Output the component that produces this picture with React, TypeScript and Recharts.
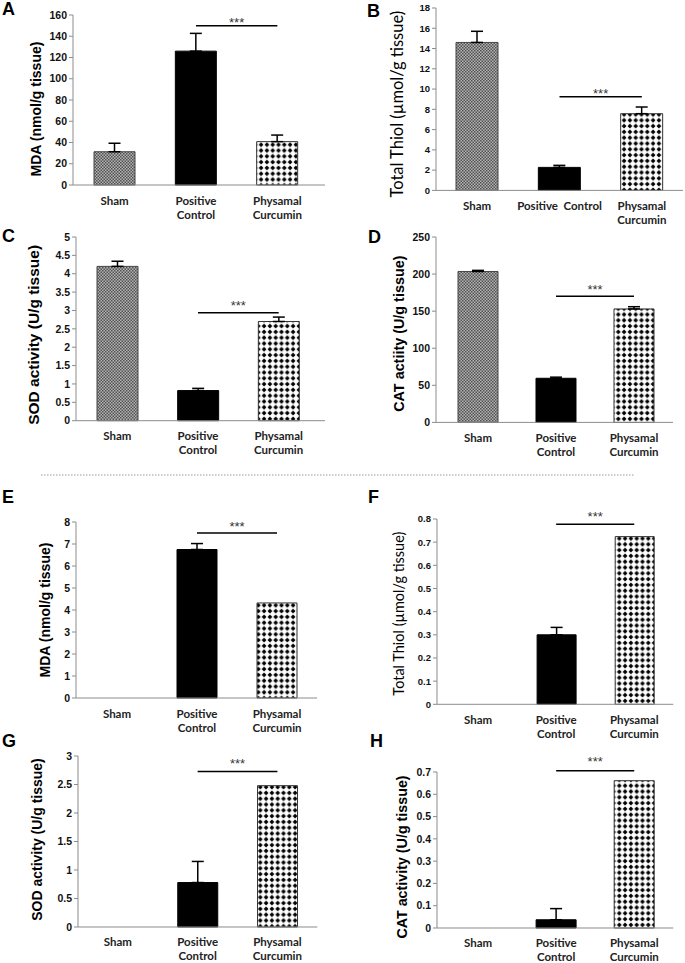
import React from 'react';
import { BarChart, Bar, XAxis, YAxis, ErrorBar, Cell, ReferenceLine } from 'recharts';

const groups = ['Sham', 'Positive Control', 'Physamal Curcumin'];
const groupLines = [['Sham'], ['Positive', 'Control'], ['Physamal', 'Curcumin']];
const groupLinesB = [['Sham'], ['Positive\u00a0\u00a0Control'], ['Physamal', 'Curcumin']];

// upper set (A-D)
const mdaA = [31.3, 126, 40.8];
const mdaAErr = [8, 16.7, 6.2];
const thiolB = [14.6, 2.27, 7.57];
const thiolBErr = [1.1, 0.2, 0.66];
const sodC = [4.2, 0.82, 2.7];
const sodCErr = [0.14, 0.06, 0.12];
const catD = [203.5, 59.5, 153];
const catDErr = [1.5, 1.5, 3];

// lower set (E-H), null = no error bar drawn
const mdaE = [0, 6.75, 4.32];
const mdaEErr = [null, 0.27, null];
const thiolF = [0, 0.3, 0.724];
const thiolFErr = [null, 0.032, null];
const sodG = [0, 0.78, 2.48];
const sodGErr = [null, 0.37, null];
const catH = [0, 0.037, 0.661];
const catHErr = [null, 0.05, null];

const ticksA = [0, 20, 40, 60, 80, 100, 120, 140, 160];
const ticksB = [0, 2, 4, 6, 8, 10, 12, 14, 16, 18];
const ticksC = [0, 0.5, 1, 1.5, 2, 2.5, 3, 3.5, 4, 4.5, 5];
const ticksD = [0, 50, 100, 150, 200, 250];
const ticksE = [0, 1, 2, 3, 4, 5, 6, 7, 8];
const ticksF = [0, 0.1, 0.2, 0.3, 0.4, 0.5, 0.6, 0.7, 0.8];
const ticksG = [0, 0.5, 1, 1.5, 2, 2.5, 3];
const ticksH = [0, 0.1, 0.2, 0.3, 0.4, 0.5, 0.6, 0.7];

// height of the *** bracket (Positive Control vs Physamal Curcumin)
const sigLevels = [150, 9.25, 2.94, 170, 7.5, 0.777, 2.73, 0.706];

const M_TOP = 24;
const Y_W = 70;
const X_H = 45;

const YTitle = (props: any) => {
  const vb = props.viewBox || props;
  const x = vb.x + vb.width - props.dist;
  const y = vb.y + vb.height / 2 + props.dy;
  return (
    <text
      x={x}
      y={y}
      transform={`rotate(-90, ${x}, ${y})`}
      textAnchor="middle"
      dominantBaseline="central"
      fontFamily={props.font}
      fontWeight={props.weight}
      fontSize={props.size}
      fill="#000"
    >
      {props.text}
    </text>
  );
};

const GroupTick = ({ x, y, payload, lines }: any) => {
  const rows = lines[payload.index] || [payload.value];
  return (
    <g transform={`translate(${x},${y})`}>
      {rows.map((r: string, i: number) => (
        <text key={i} x={0} y={19.5 + i * 14} textAnchor="middle" fontFamily="Lato" fontWeight={700} fontSize={11.5} fill="#222">
          {r}
        </text>
      ))}
    </g>
  );
};

const Panel = (p: any) => {
  const data = groups.map((g, i) => ({
    name: g,
    value: p.values[i],
    err: p.errors[i] == null ? null : [0, p.errors[i]],
  }));
  const width = p.right - p.axisX + Y_W + 2;
  const height = p.zero - p.top + M_TOP + X_H;
  const fills = [`url(#sham-${p.id})`, '#000', `url(#phc-${p.id})`];
  const strokes = ['#444', '#000', '#333'];
  return (
    <div style={{ position: 'absolute', left: p.axisX - Y_W, top: p.top - M_TOP }}>
      <BarChart width={width} height={height} data={data} margin={{ top: M_TOP, right: 2, left: 0, bottom: 0 }} barSize={p.barSize}>
        <defs>
          <pattern id={`sham-${p.id}`} width={3} height={3} patternUnits="userSpaceOnUse">
            <rect width={3} height={3} fill="#b4b4b4" />
            <rect width={1.5} height={1.5} fill="#505050" />
            <rect x={1.5} y={1.5} width={1.5} height={1.5} fill="#505050" />
          </pattern>
          <pattern id={`phc-${p.id}`} width={5.8} height={5.8} patternUnits="userSpaceOnUse">
            <rect width={5.8} height={5.8} fill="#fff" />
            <polygon points="2.9,0.5 5.3,2.9 2.9,5.3 0.5,2.9" fill="#000" />
          </pattern>
        </defs>
        <XAxis
          dataKey="name"
          axisLine={{ stroke: '#8c8c8c' }}
          tickLine={false}
          tickSize={0}
          tickMargin={0}
          height={X_H}
          padding={{ left: p.padL, right: p.padR }}
          interval={0}
          tick={<GroupTick lines={p.lines} />}
        />
        <YAxis
          type="number"
          width={Y_W}
          domain={[0, p.ticks[p.ticks.length - 1]]}
          ticks={p.ticks}
          interval={0}
          axisLine={{ stroke: '#8c8c8c' }}
          tickLine={{ stroke: '#8c8c8c' }}
          tickSize={4}
          tickMargin={2}
          tick={{ fontFamily: 'Liberation Sans', fontWeight: 700, fontSize: p.tickFont, fill: '#111' }}
          label={<YTitle text={p.title} dist={p.titleDist} dy={p.titleDy} size={p.titleSize} weight={p.titleWeight} font={p.titleFont} />}
        />
        <Bar dataKey="value" isAnimationActive={false} strokeWidth={1}>
          {data.map((d, i) => (
            <Cell key={d.name} fill={fills[i]} stroke={strokes[i]} />
          ))}
          <ErrorBar dataKey="err" direction="y" width={6} stroke="#000" strokeWidth={1.5} isAnimationActive={false} />
        </Bar>
        <ReferenceLine
          segment={[
            { x: groups[1], y: p.sig },
            { x: groups[2], y: p.sig },
          ]}
          stroke="#000"
          strokeWidth={1.5}
          ifOverflow="visible"
          label={{ value: '***', position: 'top', offset: p.starOffset, fontSize: 13, fill: '#333', fontFamily: 'Liberation Sans' }}
        />
      </BarChart>
    </div>
  );
};

const boldTitle = { titleFont: 'Liberation Sans', titleWeight: 700 };
const plainTitle = { titleFont: 'Lato', titleWeight: 400 };

const panels = [
  { id: 'A', values: mdaA, errors: mdaAErr, ticks: ticksA, sig: sigLevels[0], title: 'MDA (nmol/g tissue)', lines: groupLines,
    axisX: 73, top: 15, zero: 185, right: 325, padL: 1, padR: 7, barSize: 41, titleDist: 37, titleDy: 9, titleSize: 14, tickFont: 10.5, starOffset: -1, ...boldTitle },
  { id: 'B', values: thiolB, errors: thiolBErr, ticks: ticksB, sig: sigLevels[1], title: 'Total Thiol (\u00b5mol/g tissue)', lines: groupLinesB,
    axisX: 436, top: 8.3, zero: 190.7, right: 683, padL: 0, padR: 0, barSize: 42, titleDist: 39, titleDy: 5, titleSize: 16.5, tickFont: 9.5, starOffset: -1, ...plainTitle },
  { id: 'C', values: sodC, errors: sodCErr, ticks: ticksC, sig: sigLevels[2], title: 'SOD activity (U/g tissue)', lines: groupLines,
    axisX: 76, top: 237.3, zero: 421, right: 325, padL: 1, padR: 6, barSize: 41, titleDist: 43, titleDy: 6, titleSize: 15.5, tickFont: 10.5, starOffset: 3, ...boldTitle },
  { id: 'D', values: catD, errors: catDErr, ticks: ticksD, sig: sigLevels[3], title: 'CAT actiity (U/g tissue)', lines: groupLines,
    axisX: 436, top: 237.3, zero: 422.7, right: 673, padL: 3, padR: 0, barSize: 40, titleDist: 37, titleDy: 4, titleSize: 14.4, tickFont: 10.5, starOffset: 2, ...boldTitle },
  { id: 'E', values: mdaE, errors: mdaEErr, ticks: ticksE, sig: sigLevels[4], title: 'MDA (nmol/g tissue)', lines: groupLines,
    axisX: 76, top: 521.7, zero: 697.7, right: 317, padL: 1, padR: 0, barSize: 40, titleDist: 31, titleDy: 0, titleSize: 14, tickFont: 10.5, starOffset: 2, ...boldTitle },
  { id: 'F', values: thiolF, errors: thiolFErr, ticks: ticksF, sig: sigLevels[5], title: 'Total Thiol (\u00b5mol/g tissue)', lines: groupLines,
    axisX: 436.7, top: 519, zero: 704.3, right: 673, padL: 2, padR: 0, barSize: 39, titleDist: 38, titleDy: 2, titleSize: 14.5, tickFont: 9.5, starOffset: 3, ...plainTitle },
  { id: 'G', values: sodG, errors: sodGErr, ticks: ticksG, sig: sigLevels[6], title: 'SOD activity (U/g tissue)', lines: groupLines,
    axisX: 77.7, top: 755.7, zero: 926.7, right: 317, padL: 0, padR: 0, barSize: 40, titleDist: 41, titleDy: -2, titleSize: 14, tickFont: 10.5, starOffset: 3, ...boldTitle },
  { id: 'H', values: catH, errors: catHErr, ticks: ticksH, sig: sigLevels[7], title: 'CAT activity (U/g tissue)', lines: groupLines,
    axisX: 436.7, top: 772.3, zero: 928.3, right: 673, padL: 2, padR: 0, barSize: 40, titleDist: 35, titleDy: 7, titleSize: 14.3, tickFont: 10.5, starOffset: 5, ...boldTitle },
];

const letters = [
  { t: 'A', x: 2, y: 15 },
  { t: 'B', x: 367, y: 17 },
  { t: 'C', x: 2, y: 242 },
  { t: 'D', x: 368, y: 243 },
  { t: 'E', x: 2, y: 503 },
  { t: 'F', x: 368, y: 503 },
  { t: 'G', x: 2, y: 747 },
  { t: 'H', x: 370, y: 747 },
];

export default function App() {
  return (
    <div style={{ position: 'absolute', left: 0, top: 0, width: 685, height: 963, background: '#fff', overflow: 'hidden' }}>
      {panels.map((p) => (
        <Panel key={p.id} {...p} />
      ))}
      <svg width={685} height={963} style={{ position: 'absolute', left: 0, top: 0, pointerEvents: 'none' }}>
        <line x1={41} y1={475} x2={635} y2={475} stroke="#9a9a9a" strokeWidth={1} strokeDasharray="1.5 1.5" />
        {letters.map((l) => (
          <text key={l.t} x={l.x} y={l.y} fontFamily="Liberation Sans" fontWeight={700} fontSize={18} fill="#000">
            {l.t}
          </text>
        ))}
      </svg>
    </div>
  );
}
